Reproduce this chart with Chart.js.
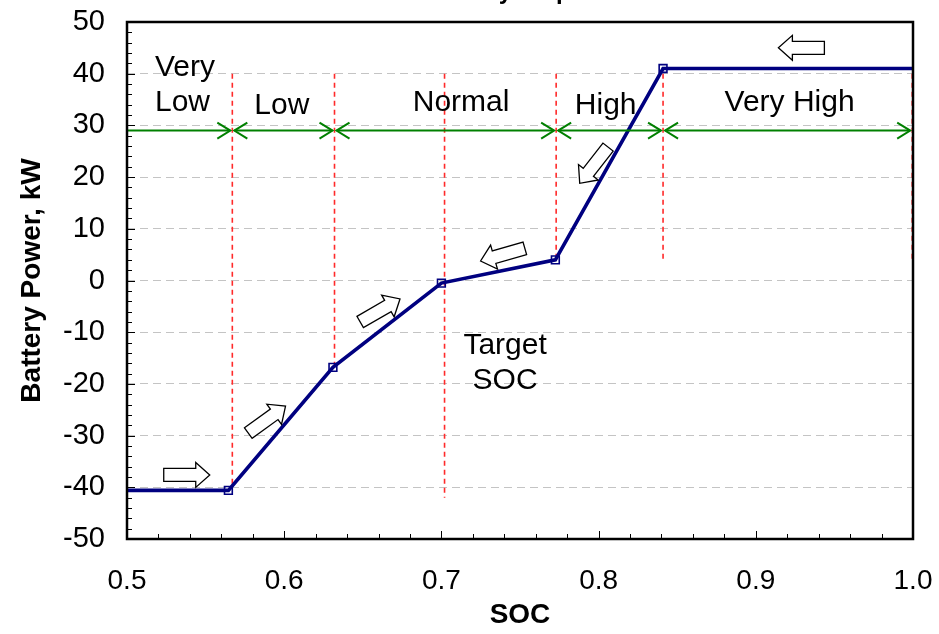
<!DOCTYPE html>
<html>
<head>
<meta charset="utf-8">
<script src="https://cdn.jsdelivr.net/npm/chart.js@4.4.1/dist/chart.umd.min.js"></script>
<style>
  html, body { margin: 0; padding: 0; background: #fff; }
</style>
</head>
<body>
<canvas id="chart" width="939" height="634"></canvas>
<script>
// --- data ---
const socValues = [0.5, 0.5645, 0.631, 0.7, 0.7725, 0.841, 1.0];
const powerValues = [-40.6, -40.6, -16.8, -0.5, 4.0, 41.0, 41.0];
const markerShown = [false, true, true, true, true, true, false];

// red dashed limits
const limitSOC = [0.567, 0.632, 0.702, 0.773, 0.841, 0.9995];
const limitTop = [40, 40, 40, 40, 40, 40];
const limitBottom = [-40, -17, -42, 4, 3.5, 3.5];

// green zone arrows
const zoneEdges = [0.5, 0.567, 0.632, 0.773, 0.841, 0.9995];
const zoneArrowPower = 29;

// text inside the plot
const noteTexts = ["Very", "Low", "Low", "Normal", "High", "Very High", "Target", "SOC"];
const noteSOC = [0.5178, 0.5178, 0.5985, 0.7125, 0.8045, 0.9215, 0.7405, 0.7405];
const notePower = [41.1, 34.3, 33.9, 34.3, 33.9, 34.3, -12.6, -19.4];
const noteAlign = ["left", "left", "center", "center", "center", "center", "center", "center"];

// hollow direction arrows
const dirSOC = [0.538, 0.589, 0.661, 0.739, 0.797, 0.929];
const dirPower = [-37.6, -26.9, -5.8, 5.0, 22.3, 45.0];
const dirAngle = [0, -36, -30, 164, 128, 180];

const yTicks = [-50, -40, -30, -20, -10, 0, 10, 20, 30, 40, 50];
const xTicks = [0.5, 0.6, 0.7, 0.8, 0.9, 1.0];

const FONT = "'Liberation Sans', Arial, sans-serif";

// main curve
const datasets = [
  {
    data: socValues.map((x, i) => ({ x: x, y: powerValues[i] })),
    borderColor: "#000080",
    borderWidth: 3.6,
    pointStyle: "rect",
    pointRadius: markerShown.map((m) => (m ? 5.5 : 0)),
    pointBorderWidth: 1.6,
    pointBorderColor: "#000080",
    pointBackgroundColor: "rgba(255,255,255,0)",
    tension: 0,
  },
];

// red dashed verticals
limitSOC.forEach((s, i) => {
  datasets.push({
    data: [
      { x: s, y: limitTop[i] },
      { x: s, y: limitBottom[i] },
    ],
    borderColor: "#ff2a2a",
    borderWidth: 1.6,
    borderDash: [5, 4],
    pointRadius: 0,
  });
});

function blockArrow(ctx, cx, cy, angle) {
  const len = 46, shaft = 13, headW = 25, headL = 14;
  const h = len / 2;
  ctx.save();
  ctx.translate(cx, cy);
  ctx.rotate((angle * Math.PI) / 180);
  ctx.beginPath();
  ctx.moveTo(-h, -shaft / 2);
  ctx.lineTo(h - headL, -shaft / 2);
  ctx.lineTo(h - headL, -headW / 2);
  ctx.lineTo(h, 0);
  ctx.lineTo(h - headL, headW / 2);
  ctx.lineTo(h - headL, shaft / 2);
  ctx.lineTo(-h, shaft / 2);
  ctx.closePath();
  ctx.fillStyle = "#fff";
  ctx.fill();
  ctx.lineWidth = 1.3;
  ctx.strokeStyle = "#000";
  ctx.stroke();
  ctx.restore();
}

function openHead(ctx, x, y, dir) {
  ctx.beginPath();
  ctx.moveTo(x - dir * 13, y - 8);
  ctx.lineTo(x, y);
  ctx.lineTo(x - dir * 13, y + 8);
  ctx.stroke();
}

const extras = {
  id: "extras",
  afterDatasetsDraw(chart) {
    const ctx = chart.ctx;
    const xs = chart.scales.x;
    const ys = chart.scales.y;

    // green zone arrows
    ctx.save();
    ctx.strokeStyle = "#008000";
    ctx.lineWidth = 2;
    const gy = ys.getPixelForValue(zoneArrowPower);
    for (let i = 0; i < zoneEdges.length - 1; i++) {
      const x0 = xs.getPixelForValue(zoneEdges[i]) + (i === 0 ? 0 : 2);
      const x1 = xs.getPixelForValue(zoneEdges[i + 1]) - 2;
      ctx.beginPath();
      ctx.moveTo(x0, gy);
      ctx.lineTo(x1, gy);
      ctx.stroke();
      openHead(ctx, x1, gy, 1);
      if (i > 0) openHead(ctx, x0, gy, -1);
    }
    ctx.restore();

    // notes
    ctx.save();
    ctx.fillStyle = "#000";
    ctx.font = "30px " + FONT;
    ctx.textBaseline = "middle";
    noteTexts.forEach((t, i) => {
      ctx.textAlign = noteAlign[i];
      ctx.fillText(t, xs.getPixelForValue(noteSOC[i]), ys.getPixelForValue(notePower[i]));
    });
    ctx.restore();

    // direction arrows
    dirSOC.forEach((s, i) => {
      blockArrow(ctx, xs.getPixelForValue(s), ys.getPixelForValue(dirPower[i]), dirAngle[i]);
    });
  },
  afterDraw(chart) {
    const ctx = chart.ctx;
    const a = chart.chartArea;
    const xs = chart.scales.x;
    const ys = chart.scales.y;
    ctx.save();
    // inner tick marks
    ctx.strokeStyle = "#000";
    ctx.lineWidth = 1;
    for (let k = 0; k <= 25; k++) {
      const v = 0.5 + k * 0.02;
      const px = Math.round(xs.getPixelForValue(v)) + 0.5;
      const len = k % 5 === 0 ? 8 : 5;
      ctx.beginPath();
      ctx.moveTo(px, a.bottom);
      ctx.lineTo(px, a.bottom - len);
      ctx.stroke();
    }
    for (let k = 0; k <= 50; k++) {
      const v = -50 + k * 2;
      const py = Math.round(ys.getPixelForValue(v)) + 0.5;
      const len = k % 5 === 0 ? 8 : 5;
      ctx.beginPath();
      ctx.moveTo(a.left, py);
      ctx.lineTo(a.left + len, py);
      ctx.stroke();
    }
    // plot frame
    ctx.lineWidth = 2.5;
    ctx.strokeRect(a.left, a.top, a.right - a.left, a.bottom - a.top);
    // clipped title at the very top
    ctx.font = "bold 24px " + FONT;
    ctx.textAlign = "center";
    ctx.textBaseline = "alphabetic";
    ctx.fillText("Battery Setpoint", (a.left + a.right) / 2 + 2, -1);
    ctx.restore();
  },
};

const config = {
  type: "line",
  data: { datasets },
  options: {
    responsive: false,
    animation: false,
    layout: { padding: { top: 22, right: 26, bottom: 0, left: 0 } },
    plugins: { legend: { display: false }, tooltip: { enabled: false } },
    scales: {
      x: {
        type: "linear",
        min: 0.5,
        max: 1.0,
        afterFit: (scale) => {
          scale.height = 95;
          scale.paddingLeft = 0;
          scale.paddingRight = 0;
        },
        afterBuildTicks: (axis) => (axis.ticks = xTicks.map((v) => ({ value: v }))),
        ticks: {
          color: "#000",
          font: { family: FONT, size: 28 },
          padding: 25,
          maxRotation: 0,
          callback: (v) => v.toFixed(1),
        },
        grid: { display: false, drawTicks: false },
        border: { display: false },
        title: {
          display: true,
          text: "SOC",
          color: "#000",
          font: { family: FONT, size: 28, weight: "bold" },
          padding: { top: 0, bottom: 2 },
        },
      },
      y: {
        type: "linear",
        min: -50,
        max: 50,
        afterFit: (scale) => {
          scale.width = 127;
          scale.paddingTop = 0;
          scale.paddingBottom = 0;
        },
        afterBuildTicks: (axis) => (axis.ticks = yTicks.map((v) => ({ value: v }))),
        ticks: {
          color: "#000",
          font: { family: FONT, size: 29 },
          padding: 22,
        },
        grid: {
          drawTicks: false,
          color: (c) => (c.tick && Math.abs(c.tick.value) === 50 ? "rgba(0,0,0,0)" : "#c4c4c4"),
          lineWidth: 1,
        },
        border: { display: false, dash: [8, 5] },
        title: {
          display: true,
          text: "Battery Power, kW",
          color: "#000",
          font: { family: FONT, size: 28, weight: "bold" },
          padding: { top: 15, bottom: 0 },
        },
      },
    },
  },
  plugins: [extras],
};

new Chart(document.getElementById("chart"), config);
</script>
</body>
</html>
